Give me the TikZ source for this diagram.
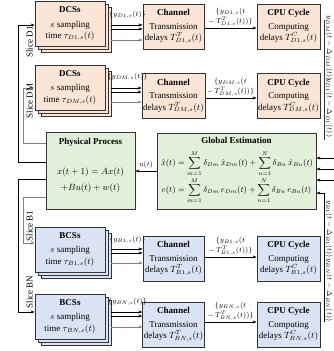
\documentclass[tikz,border=0pt]{standalone}
\usepackage{amsmath}
\usepackage{graphicx}
\usepackage{fontspec}
\setmainfont{Liberation Serif}
\usetikzlibrary{arrows.meta,calc}
\definecolor{peach}{HTML}{FBE5D6}
\definecolor{lblue}{HTML}{DAE3F3}
\definecolor{lgreen}{HTML}{E2F0D9}
\definecolor{edgec}{HTML}{333333}
\definecolor{greyline}{HTML}{808080}
\begin{document}
\begin{tikzpicture}[x=1pt,y=-1pt,
  box/.style={draw=edgec,line width=0.8pt,minimum height=45pt,inner sep=1pt,align=center,font=\fontsize{9}{11.5}\selectfont},
  srcbox/.style={box,minimum width=70pt},
  chbox/.style={box,minimum width=61pt},
  cpubox/.style={box,minimum width=63pt},
  stackrect/.style={draw=edgec,line width=0.8pt},
  arr/.style={-{Stealth[length=4pt,width=3pt]},line width=0.7pt,draw=black},
  garr/.style={-{Stealth[length=4pt,width=3pt]},line width=0.7pt,draw=greyline},
  lbl/.style={font=\fontsize{7.5}{8.5}\selectfont,inner sep=0pt},
  slice/.style={font=\fontsize{9}{10}\selectfont,rotate=90,inner sep=0pt},
  rlbl/.style={font=\fontsize{7}{8}\selectfont,rotate=-90,inner sep=0pt},
  dotsl/.style={font=\tiny,text=greyline,inner sep=0pt}]
\useasboundingbox (0,0) rectangle (334,351);

% ---------- stacked source boxes ----------
\foreach \t/\c in {1.5/peach,65/peach,227/lblue,294/lblue}{
  \foreach \o in {6,3}{\draw[stackrect,fill=\c] (35+\o,\t+\o) rectangle ++(70,45);}
}
\node[srcbox,fill=peach] (d1) at (70,24) {\textbf{DCSs}\\[3pt] $s$ sampling\\ time $\tau_{D1,s}(t)$};
\node[srcbox,fill=peach] (dm) at (70,87.5) {\textbf{DCSs}\\[3pt] $s$ sampling\\ time $\tau_{DM,s}(t)$};
\node[srcbox,fill=lblue] (b1) at (70,249.5) {\textbf{BCSs}\\[3pt] $s$ sampling\\ time $\tau_{B1,s}(t)$};
\node[srcbox,fill=lblue] (bn) at (70,316.5) {\textbf{BCSs}\\[3pt] $s$ sampling\\ time $\tau_{BN,s}(t)$};

% ---------- channel boxes ----------
\node[chbox,fill=peach] (c1) at (173.5,26.5) {\textbf{Channel}\\[2pt] Transmission\\ delays $T^{T}_{D1,s}(t)$};
\node[chbox,fill=peach] (cm) at (173.5,96) {\textbf{Channel}\\[2pt] Transmission\\ delays $T^{T}_{DM,s}(t)$};
\node[chbox,fill=lblue] (cb1) at (173.5,258.5) {\textbf{Channel}\\[2pt] Transmission\\ delays $T^{T}_{B1,s}(t)$};
\node[chbox,fill=lblue] (cbn) at (173.5,324.5) {\textbf{Channel}\\[2pt] Transmission\\ delays $T^{T}_{BN,s}(t)$};

% ---------- CPU boxes ----------
\node[cpubox,fill=peach] (p1) at (288.5,26.5) {\textbf{CPU Cycle}\\[2pt] Computing\\ delays $T^{C}_{D1,s}(t)$};
\node[cpubox,fill=peach] (pm) at (288.5,96) {\textbf{CPU Cycle}\\[2pt] Computing\\ delays $T^{C}_{DM,s}(t)$};
\node[cpubox,fill=lblue] (pb1) at (288.5,258.5) {\textbf{CPU Cycle}\\[2pt] Computing\\ delays $T^{C}_{B1,s}(t)$};
\node[cpubox,fill=lblue] (pbn) at (288.5,324.5) {\textbf{CPU Cycle}\\[2pt] Computing\\ delays $T^{C}_{BN,s}(t)$};

% ---------- source -> channel arrows ----------
\foreach \s/\ch/\ya/\yb/\yc/\yl/\nm in {d1/c1/25/29/40/15/{D1,s},dm/cm/88/92/102/77/{DM,s},b1/cb1/249/253/263/240/{B1,s},bn/cbn/312/316/327/302/{BN,s}}{
  \draw[arr] (111,\ya) -- (\ch.west |- 0,\ya);
  \draw[arr] (111,\yb) -- (\ch.west |- 0,\yb);
  \draw[garr] (111,\yc) -- (\ch.west |- 0,\yc);
  \node[lbl] at (127.5,\yl) {$\{y_{\nm}(t)\}$};
  \node[dotsl] at (126,\yc-5) {$\vdots$};
}

% ---------- channel -> CPU arrows ----------
\foreach \ch/\pc/\ya/\nm in {c1/p1/28/{D1,s},cm/pm/98/{DM,s},cb1/pb1/257/{B1,s},cbn/pbn/322/{BN,s}}{
  \draw[arr] (\ch.east |- 0,\ya) -- (\pc.west |- 0,\ya);
  \node[lbl,align=center,anchor=south] at (230.5,\ya-1.5) {$\{y_{\nm}(t$\\[1pt]$-\,T^{T}_{\nm}(t))\}$};
}

% ---------- physical process ----------
\node[draw=edgec,line width=0.8pt,fill=lgreen,minimum width=89pt,minimum height=77pt] (pp) at (90.5,170.5) {};
\node[font=\fontsize{9}{11}\selectfont\bfseries] (ppt) at (90.5,142) {Physical Process};
\node[font=\fontsize{9.5}{12}\selectfont,align=center] (ppe) at (90.5,180) {$x(t+1)=Ax(t)$\\[4pt]$+Bu(t)+w(t)$};

% ---------- global estimation ----------
\node[draw=edgec,line width=0.8pt,fill=lgreen,minimum width=159pt,minimum height=76pt] (ge) at (236.5,171) {};
\node[font=\fontsize{9}{11}\selectfont\bfseries] (get) at (236.5,140.5) {Global Estimation};
\node[font=\fontsize{9}{11}\selectfont,inner sep=0pt] (gee) at (237,177) {\resizebox{152pt}{!}{$\displaystyle\begin{aligned}
\hat{x}(t) &= \sum_{m=1}^{M}\delta_{Dm}\,\hat{x}_{Dm}(t)+\sum_{n=1}^{N}\delta_{Bn}\,\hat{x}_{Bn}(t)\\[-3pt]
e(t) &= \sum_{m=1}^{M}\delta_{Dm}\,e_{Dm}(t)+\sum_{n=1}^{N}\delta_{Bn}\,e_{Bn}(t)
\end{aligned}$}};

% u(t)
\draw[arr] (ge.west |- 0,171) -- (pp.east |- 0,171);
\node[lbl] (ul) at (146,164.5) {$u(t)$};

% ---------- left slice feedback lines ----------
\draw[arr] (pp.west |- 0,162) -- (18,162) -- (18,25) -- (d1.west |- 0,25);
\draw[garr] (pp.west |- 0,143) -- (23,143) -- (23,88) -- (dm.west |- 0,88);
\draw[garr] (pp.west |- 0,197) -- (23,197) -- (23,243) -- (b1.west |- 0,243);
\draw[arr] (pp.west |- 0,179) -- (18,179) -- (18,312) -- (bn.west |- 0,312);
\node[slice] (s1) at (29.5,42) {Slice D1};
\node[slice] (sm) at (29.5,101) {Slice DM};
\node[slice] (sb1) at (29.5,226) {Slice B1};
\node[slice] (sbn) at (29.5,292) {Slice BN};

% ---------- right side ----------
\coordinate (rt) at (324,20);
\coordinate (rtb) at (324,140);
\draw[line width=0.7pt,draw=edgec] (rt) -- (rtb);
\coordinate (rb) at (324,322);
\draw[arr] (rb) -- (324,193) -- (ge.east |- 0,193);
\foreach \yy in {158,169,180}{
  \coordinate (re\yy) at (334,\yy);
  \draw[arr] (re\yy) -- (ge.east |- re\yy);
}
\node[rlbl] (ydm) at (329,48) {$y_{DM}(t-\Delta_{DM}(t))$};
\node[rlbl] (yd1) at (329,108) {$y_{D1}(t-\Delta_{D1}(t))$};
\node[rlbl] (yb1) at (329,229) {$y_{B1}(t-\Delta_{B1}(t))$};
\node[rlbl] (ybn) at (329,290) {$y_{BN}(t-\Delta_{BN}(t))$};
\end{tikzpicture}
\end{document}
